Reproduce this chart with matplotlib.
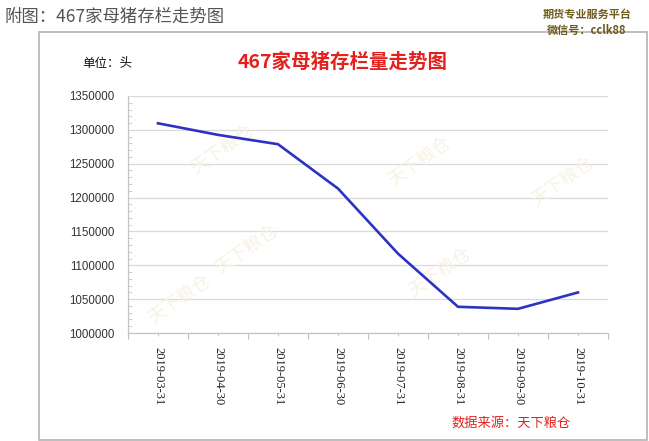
import matplotlib
matplotlib.use("Agg")
import matplotlib.pyplot as plt
from matplotlib.patches import Rectangle
from matplotlib.ticker import MultipleLocator, FixedLocator

plt.rcParams['font.family'] = ['Noto Sans CJK SC', 'DejaVu Sans']

dates = ["2019-03-31", "2019-04-30", "2019-05-31", "2019-06-30",
         "2019-07-31", "2019-08-31", "2019-09-30", "2019-10-31"]
stock = [1309700, 1292600, 1278800, 1213300, 1117200, 1038700, 1035700, 1059900]
yticks = [1000000, 1050000, 1100000, 1150000, 1200000, 1250000, 1300000, 1350000]

W, H = 649, 441
fig = plt.figure(figsize=(W / 100, H / 100), dpi=100)

# outer chart box
fig.add_artist(Rectangle((39 / W, 1 - 440 / H), 608 / W, 408 / H,
                         transform=fig.transFigure, fill=False,
                         edgecolor='#b4b4b4', lw=1.2))

ax = fig.add_axes([128 / W, 1 - 333 / H, 480 / W, 237 / H])
x = list(range(len(dates)))

# faint watermarks (drawn beneath the line)
wm = [(223, 150), (420, 162), (563, 182), (247, 250), (440, 273), (180, 300)]
for px, py in wm:
    ax.text(px / W, 1 - py / H, "天下粮仓", fontsize=13, color='#f7f2e4',
            rotation=35, ha='center', va='center', zorder=1,
            transform=fig.transFigure, clip_on=False)

ax.plot(x, stock, color='#2c33c2', lw=1.9, solid_joinstyle='round', zorder=3)

ax.set_xlim(-0.5, len(dates) - 0.5)
ax.set_ylim(1000000, 1350000)
ax.set_yticks(yticks)
ax.set_yticklabels([str(v) for v in yticks], family='Liberation Sans', fontsize=8.3, color='#333333')
ax.yaxis.set_minor_locator(MultipleLocator(10000))
ax.grid(axis='y', color='#d9d9d9', lw=0.9, zorder=0.5)
ax.set_axisbelow(True)

ax.xaxis.set_major_locator(FixedLocator([i + 0.5 for i in range(-1, len(dates))]))
ax.xaxis.set_minor_locator(FixedLocator(x))
ax.set_xticklabels([])
ax.set_xticks(x, minor=True)
ax.set_xticklabels(dates, minor=True, rotation=270, family='Liberation Serif',
                   fontsize=9, color='#222222', va='top', ha='center')

ax.tick_params(axis='x', which='major', length=4, color='#bfbfbf', direction='out')
ax.tick_params(axis='x', which='minor', length=2, color='#bfbfbf', direction='out', pad=8)
ax.tick_params(axis='y', which='major', length=0, pad=10)
ax.tick_params(axis='y', which='minor', length=3, color='#c8c8c8', direction='in')

for s in ['top', 'right']:
    ax.spines[s].set_visible(False)
for s in ['left', 'bottom']:
    ax.spines[s].set_color('#c4c4c4')
    ax.spines[s].set_linewidth(0.9)
ax.set_facecolor('none')

# texts
fig.text(5 / W, 1 - 17 / H, "附图：467家母猪存栏走势图", fontsize=12.5,
         color='#555555', ha='left', va='center')
fig.text(587 / W, 1 - 14 / H, "期货专业服务平台", fontsize=8, color='#6e5c1c',
         fontweight='bold', ha='center', va='center')
fig.text(587 / W, 1 - 30 / H, "微信号：cclk88", fontsize=8, color='#6e5c1c',
         fontweight='bold', ha='center', va='center')
fig.text(82 / W, 1 - 64 / H, "单位：头", fontsize=9, color='#111111',
         ha='left', va='center')
fig.text(343 / W, 1 - 62 / H, "467家母猪存栏量走势图", fontsize=14,
         color='#e3211e', fontweight='bold', ha='center', va='center')
fig.text(511 / W, 1 - 423 / H, "数据来源：天下粮仓", fontsize=9.5,
         color='#e3211e', ha='center', va='center', style='italic')

fig.savefig("out.png", dpi=100)
